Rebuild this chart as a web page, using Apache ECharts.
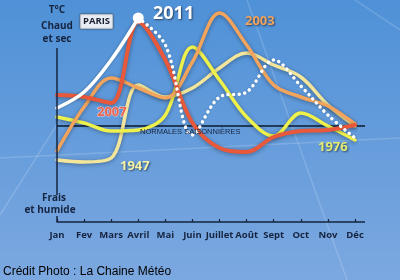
<!DOCTYPE html>
<html><head><meta charset="utf-8">
<script src="https://cdn.jsdelivr.net/npm/echarts@6/dist/echarts.min.js"></script>
<style>html,body{margin:0;padding:0;}#c{width:400px;height:280px;}</style>
</head><body><div id="c"></div>
<script>
// Categories (months)
var months = ['Jan','Fev','Mars','Avril','Mai','Juin','Juillet','Août','Sept','Oct','Nov','Déc'];
// Deviation from seasonal normals (arbitrary units)
var y2011 = [1.8, 3.4, 6.6, 10.8, 8.1, -0.9, 2.9, 3.4, 6.6, 4.0, 1.1, -1.2];
var y2011SolidCount = 4; // Jan..Avril observed, then dotted
var y2007 = [3.1, 2.9, 2.3, 10.4, 6.6, 0.3, -2.2, -2.6, -1.1, -0.5, -0.4, 0.1];
var y2003 = [-2.5, 1.9, 4.8, 3.8, 2.8, 6.4, 11.3, 8.1, 4.1, 2.9, 2.0, 0.2];
var y1976 = [0.9, 0.3, -0.5, -0.4, 1.1, 7.9, 4.6, 0.9, -1.0, 1.3, 0.0, -1.4];
var y1947 = [-3.4, -3.6, -3.2, 4.1, 2.9, 3.8, 5.8, 7.3, 6.1, 4.9, 2.1, 0.0];

var chart = echarts.init(document.getElementById('c'), null, {renderer:'canvas'});
var navy = '#16243f';
var shadow = {shadowColor:'rgba(0,0,0,0.35)', shadowBlur:4, shadowOffsetY:1};
function lineSeries(name, data, color, width, z){
  return {name:name, type:'line', data:data, smooth:0.35, symbol:'none', z:z,
    lineStyle:Object.assign({color:color, width:width, cap:'round', join:'round'}, shadow)};
}
var solid2011 = y2011.map(function(v,i){return i < y2011SolidCount ? v : null;});
var dotted2011 = y2011.map(function(v,i){return i >= y2011SolidCount-1 ? v : null;});

var option = {
  animation:false,
  backgroundColor:{type:'linear', x:0, y:0, x2:0, y2:1, colorStops:[{offset:0,color:'#4f91d7'},{offset:1,color:'#7ca8e0'}]},
  grid:{left:57, right:45, top:10, bottom:58},
  xAxis:{type:'category', data:months, boundaryGap:false,
    axisLine:{show:true, onZero:false, lineStyle:{color:navy, width:1.5}},
    axisTick:{show:true, inside:true, length:3, lineStyle:{color:navy, width:1.2}},
    axisLabel:{color:navy, fontFamily:'Open Sans', fontWeight:'bold', fontSize:9.5, margin:8, interval:0},
    splitLine:{show:false}},
  yAxis:{type:'value', min:-9.6, max:11.6, show:false},
  series:[
    lineSeries('1947', y1947, '#f3e69a', 3.5, 2),
    lineSeries('1976', y1976, '#eef04c', 3.5, 3),
    lineSeries('2003', y2003, '#f2a35c', 3.5, 4),
    lineSeries('2007', y2007, '#e8583a', 4, 5),
    {name:'2011 prévision', type:'line', data:dotted2011, smooth:0.35, symbol:'none', z:6,
      lineStyle:{color:'#ffffff', width:3.5, type:[0.1,5.5], cap:'round', shadowColor:'rgba(0,0,0,0.2)', shadowBlur:2}},
    {name:'2011', type:'line', data:solid2011, smooth:0.35, z:7, showSymbol:true, showAllSymbol:true,
      symbol:'circle', symbolSize:function(v,p){return p.dataIndex===y2011SolidCount-1?11:0;},
      itemStyle:{color:'#ffffff', borderWidth:0},
      lineStyle:{color:'#ffffff', width:3.5, cap:'round', shadowColor:'rgba(0,0,0,0.25)', shadowBlur:3}}
  ]
};
chart.setOption(option);

var y0 = chart.convertToPixel({yAxisIndex:0}, 0);
var xJan = chart.convertToPixel({xAxisIndex:0}, 'Jan');
var xDec = chart.convertToPixel({xAxisIndex:0}, 'Déc');
var yBottom = chart.convertToPixel({yAxisIndex:0}, -9.6);
var faint = {stroke:'rgba(255,255,255,0.16)', lineWidth:1.5};
var ts = {textShadowColor:'rgba(0,0,0,0.55)', textShadowBlur:2, textShadowOffsetX:1, textShadowOffsetY:1};
function txt(x,y,text,style,z){return {type:'text', x:x, y:y, z:z||50, style:Object.assign({text:text, fontFamily:'Open Sans', fontWeight:'bold'}, style)};}
chart.setOption({graphic:[
  {type:'line', z:-1, shape:{x1:247,y1:0,x2:347,y2:280}, style:faint, silent:true},
  {type:'line', z:-1, shape:{x1:0,y1:158,x2:400,y2:138}, style:faint, silent:true},
  {type:'line', z:-1, shape:{x1:0,y1:215,x2:60,y2:120}, style:faint, silent:true},
  {type:'line', z:-1, shape:{x1:355,y1:0,x2:400,y2:30}, style:faint, silent:true},
  // vertical axis (interrupted by label)
  {type:'line', z:40, shape:{x1:xJan,y1:48,x2:xJan,y2:195}, style:{stroke:navy, lineWidth:1.5}},
  {type:'line', z:40, shape:{x1:xJan,y1:216,x2:xJan,y2:yBottom}, style:{stroke:navy, lineWidth:1.5}},
  // x axis extension
  {type:'line', z:40, shape:{x1:xDec,y1:yBottom,x2:365,y2:yBottom}, style:{stroke:navy, lineWidth:1.5}},
  // normals line
  {type:'line', z:1, shape:{x1:xJan,y1:y0,x2:365,y2:y0}, style:{stroke:'#0d1a2e', lineWidth:1.3}},
  txt(140, y0+2, 'NORMALES SAISONNIÈRES', {fontFamily:'Liberation Sans', fontWeight:'normal', fontSize:7.5, fill:navy}),
  txt(xJan, 5, 'T°C', {fontSize:10, fill:navy, align:'center'}),
  txt(xJan, 21, 'Chaud', {fontSize:10, fill:navy, align:'center'}),
  txt(xJan, 34, 'et sec', {fontSize:10, fill:navy, align:'center'}),
  txt(xJan-3, 193, 'Frais', {fontSize:10, fill:navy, align:'center'}),
  txt(xJan-7, 205, 'et humide', {fontSize:10, fill:navy, align:'center'}),
  {type:'rect', z:45, shape:{x:80,y:14,width:33,height:15,r:1}, style:{fill:'#e9eef4', stroke:'#5a6a80', lineWidth:0.6, shadowColor:'rgba(0,0,0,0.3)', shadowBlur:2}},
  txt(96.5, 16, 'PARIS', {fontSize:9.5, fill:'#1a2233', align:'center'}, 46),
  txt(153, 5, '2011', Object.assign({fontSize:18, fill:'#ffffff'}, ts)),
  txt(245, 15, '2003', Object.assign({fontSize:13, fill:'#f2a35c'}, ts)),
  txt(97, 106, '2007', {fontSize:13, fill:'#ec6350', stroke:'rgba(255,225,215,0.85)', lineWidth:1}),
  txt(120, 160, '1947', Object.assign({fontSize:13, fill:'#f4f2a8'}, ts)),
  txt(318, 141, '1976', Object.assign({fontSize:13, fill:'#e4ec74'}, ts)),
  txt(3, 266, 'Crédit Photo : La Chaine Météo', {fontFamily:'Liberation Sans', fontWeight:'normal', fontSize:12, fill:'#000000'})
]});
</script></body></html>
